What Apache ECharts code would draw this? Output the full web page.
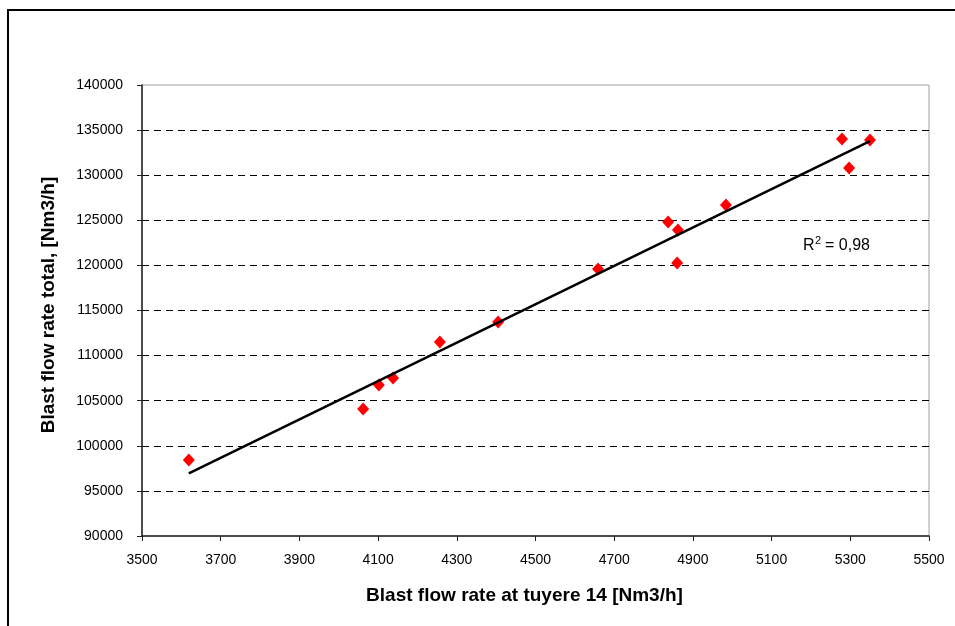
<!DOCTYPE html>
<html>
<head>
<meta charset="utf-8">
<script src="https://cdn.jsdelivr.net/npm/echarts@6/dist/echarts.min.js"></script>
<style>
html,body{margin:0;padding:0;background:#fff;}
#chart{width:955px;height:626px;}
</style>
</head>
<body>
<div id="chart"></div>
<script>
// Data
var tuyereFlow = [3619, 4062, 4102, 4138, 4257, 4405, 4659, 4837, 4862, 4860, 4984, 5279, 5297, 5350];
var totalFlow  = [98430, 104080, 106740, 107520, 111510, 113720, 119600, 124810, 123920, 120270, 126700, 134010, 130800, 133900];
var xTicks = [3500, 3700, 3900, 4100, 4300, 4500, 4700, 4900, 5100, 5300, 5500];
var yTicks = [90000, 95000, 100000, 105000, 110000, 115000, 120000, 125000, 130000, 135000, 140000];
var r2Text = "0,98";

// Least-squares trendline over the data range
var n = tuyereFlow.length, sx = 0, sy = 0, sxx = 0, sxy = 0;
for (var i = 0; i < n; i++) {
  sx += tuyereFlow[i]; sy += totalFlow[i];
  sxx += tuyereFlow[i] * tuyereFlow[i]; sxy += tuyereFlow[i] * totalFlow[i];
}
var slope = (n * sxy - sx * sy) / (n * sxx - sx * sx);
var intercept = (sy - slope * sx) / n;
var xMin = Math.min.apply(null, tuyereFlow), xMax = Math.max.apply(null, tuyereFlow);
var trend = [[xMin, intercept + slope * xMin], [xMax, intercept + slope * xMax]];

var points = tuyereFlow.map(function (x, i) { return [x, totalFlow[i]]; });

var chart = echarts.init(document.getElementById('chart'));
var font = 'Liberation Sans, Arial, sans-serif';
function plain(v) { return String(v); }
chart.setOption({
  animation: false,
  backgroundColor: '#fff',
  grid: {
    left: 142, right: 26, top: 85, bottom: 90,
    show: true, borderColor: '#a0a0a0', borderWidth: 1, backgroundColor: 'transparent'
  },
  xAxis: {
    type: 'value',
    min: xTicks[0], max: xTicks[xTicks.length - 1], interval: xTicks[1] - xTicks[0],
    name: 'Blast flow rate at tuyere 14 [Nm3/h]',
    nameLocation: 'middle', nameGap: 50,
    nameTextStyle: { fontFamily: font, fontSize: 19, fontWeight: 'bold', color: '#000', padding: [0, 22, 0, 0] },
    axisLine: { show: true, onZero: false, lineStyle: { color: '#222', width: 1.5 } },
    axisTick: { show: true, inside: false, length: 5, lineStyle: { color: '#222' } },
    axisLabel: { fontFamily: font, fontSize: 14, color: '#000', margin: 17, formatter: plain },
    splitLine: { show: false }
  },
  yAxis: {
    type: 'value',
    min: yTicks[0], max: yTicks[yTicks.length - 1], interval: yTicks[1] - yTicks[0],
    name: 'Blast flow rate total, [Nm3/h]',
    nameLocation: 'middle', nameGap: 84, nameRotate: 90,
    nameTextStyle: { fontFamily: font, fontSize: 19, fontWeight: 'bold', color: '#000', padding: [0, 0, 0, 11] },
    axisLine: { show: true, onZero: false, lineStyle: { color: '#222', width: 1.5 } },
    axisTick: { show: true, inside: false, length: 5, lineStyle: { color: '#222' } },
    axisLabel: { fontFamily: font, fontSize: 14, color: '#000', margin: 19, formatter: plain },
    splitLine: { show: true, showMinLine: false, showMaxLine: false,
      lineStyle: { color: '#000', width: 1, type: [7, 5] } }
  },
  series: [
    {
      type: 'line', data: trend, symbol: 'none', silent: true,
      lineStyle: { color: '#000', width: 2.5 }, z: 3
    },
    {
      type: 'scatter', data: points, symbol: 'diamond', symbolSize: [12, 13],
      itemStyle: { color: '#ff0000', opacity: 1 }, z: 2
    }
  ],
  graphic: [
    { type: 'rect', shape: { x: 8, y: 10, width: 1000, height: 700 },
      style: { fill: 'none', stroke: '#000', lineWidth: 2 }, silent: true },
    { type: 'text', x: 803, y: 238, style: { text: 'R', font: '16px ' + font, fill: '#000' } },
    { type: 'text', x: 815, y: 235, style: { text: '2', font: '11px ' + font, fill: '#000' } },
    { type: 'text', x: 825, y: 238, style: { text: '= ' + r2Text, font: '16px ' + font, fill: '#000' } }
  ]
});
</script>
</body>
</html>
